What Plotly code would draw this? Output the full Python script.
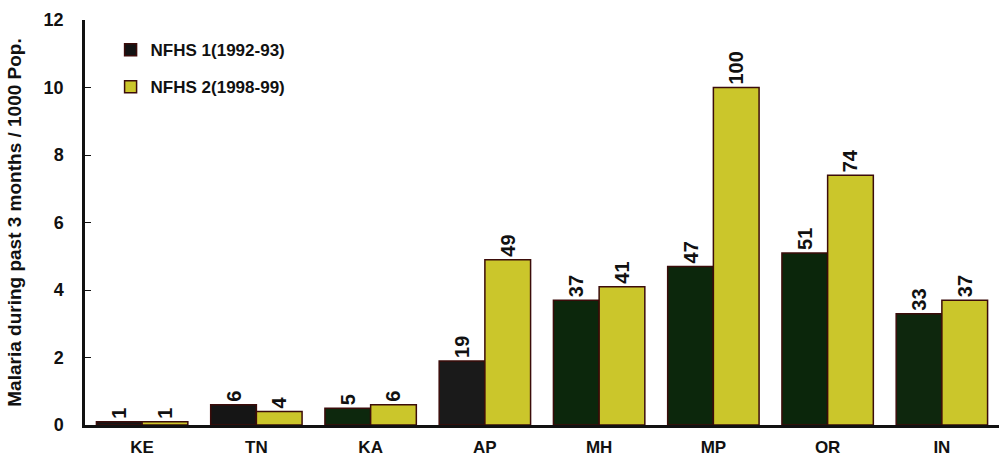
import plotly.graph_objects as go

# States and malaria prevalence per 10,000 population (bar labels); bars use /1000
states = ["KE", "TN", "KA", "AP", "MH", "MP", "OR", "IN"]
nfhs1_per10k = [1, 6, 5, 19, 37, 47, 51, 33]
nfhs2_per10k = [1, 4, 6, 49, 41, 100, 74, 37]

series1_name = "NFHS 1(1992-93)"
series2_name = "NFHS 2(1998-99)"
y_title = "Malaria during past 3 months / 1000 Pop."
y_ticks = [0, 2, 4, 6, 8, 10, 12]

nfhs1 = [v / 10 for v in nfhs1_per10k]
nfhs2 = [v / 10 for v in nfhs2_per10k]

FONT = "Liberation Sans, Arial, sans-serif"
dark_cols = ["#131313", "#151515", "#0d280d", "#1a1a1a",
             "#0c270c", "#0c270c", "#0b260b", "#0e270d"]
yellow = "#cbc62b"
edge = "#3b0c0a"
label_font = dict(family=FONT, size=20, color="#111111", weight="bold")

fig = go.Figure()
fig.add_trace(go.Bar(
    x=states, y=nfhs1, name=series1_name, legendgroup="n1",
    marker=dict(color=dark_cols, line=dict(color=edge, width=1.5)),
    text=[str(v) for v in nfhs1_per10k], textposition="outside",
    textangle=-90, constraintext="none", cliponaxis=False,
    textfont=label_font,
))
fig.add_trace(go.Bar(
    x=states, y=nfhs2, name=series2_name, legendgroup="n2",
    marker=dict(color=yellow, line=dict(color=edge, width=1.5)),
    text=[str(v) for v in nfhs2_per10k], textposition="outside",
    textangle=-90, constraintext="none", cliponaxis=False,
    textfont=label_font,
))

fig.update_layout(
    width=1001, height=466,
    margin=dict(l=85, r=2, t=20, b=41),
    paper_bgcolor="white", plot_bgcolor="white",
    barmode="group", bargap=0.2, bargroupgap=0.0,
    font=dict(family=FONT, color="#111111"),
    legend=dict(
        x=0.028, y=0.97, xanchor="left", yanchor="top",
        bgcolor="rgba(0,0,0,0)", borderwidth=0,
        font=dict(family=FONT, size=17, color="#111111", weight="bold"),
        tracegroupgap=12, itemwidth=30,
    ),
    showlegend=True,
)
fig.update_xaxes(
    showgrid=False, zeroline=False,
    showline=True, linecolor="#111111", linewidth=2.5,
    ticks="", tickfont=dict(family=FONT, size=17, color="#111111", weight="bold"),
    ticklabelstandoff=5,
)
fig.update_yaxes(
    range=[0, 12], tickvals=y_ticks, showgrid=False, zeroline=False,
    showline=True, linecolor="#111111", linewidth=2.5,
    ticks="inside", ticklen=6, tickcolor="#111111",
    tickfont=dict(family=FONT, size=18, color="#111111", weight="bold"),
    ticklabelstandoff=15,
    title=dict(text=y_title, standoff=17,
               font=dict(family=FONT, size=19, color="#111111", weight="bold")),
)

fig.write_html("out.html")
